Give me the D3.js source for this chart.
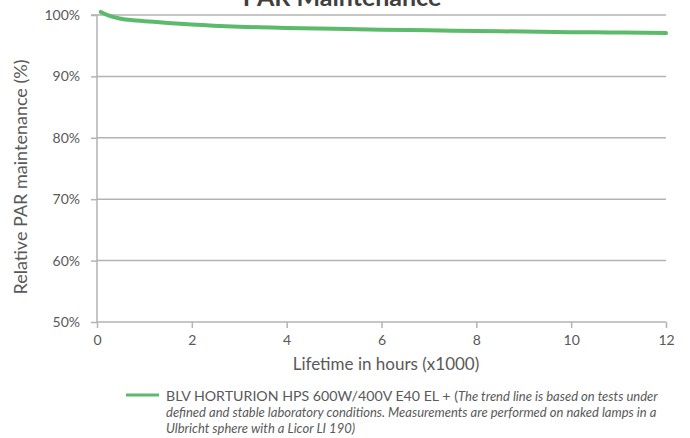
<!DOCTYPE html>
<html><head><meta charset="utf-8">
<script src="https://cdn.jsdelivr.net/npm/d3@7"></script>
<style>body{margin:0;background:#fff}svg{display:block}text{font-family:Lato,"Open Sans",sans-serif}</style>
</head><body><svg id="c" width="690" height="438"></svg>
<script>
const hours = [0.08, 0.25, 0.5, 0.75, 1, 1.5, 2, 3, 4, 5, 6, 7, 8, 9, 10, 11, 12];
const par = [100.5, 99.9, 99.4, 99.15, 99.0, 98.7, 98.45, 98.1, 97.9, 97.75, 97.6, 97.5, 97.4, 97.3, 97.2, 97.15, 97.05];
const xTicks = [0, 2, 4, 6, 8, 10, 12];
const yTicks = [50, 60, 70, 80, 90, 100];
const seriesName = "BLV HORTURION HPS 600W/400V E40 EL + (";
const noteLines = ["The trend line is based on tests under",
  "defined and stable laboratory conditions. Measurements are performed on naked lamps in a",
  "Ulbricht sphere with a Licor LI 190)"];

const svg = d3.select("#c");
const x = d3.scaleLinear().domain([0, 12]).range([97, 666]);
const y = d3.scaleLinear().domain([50, 100]).range([322, 15]);
const grey = "#b3b3b3", txt = "#595959";

// gridlines
svg.append("g").selectAll("line").data(yTicks.filter(d => d > 50)).join("line")
  .attr("x1", x(0)).attr("x2", x(12)).attr("y1", d => y(d)).attr("y2", d => y(d))
  .attr("stroke", grey).attr("stroke-width", 1.5);

// y axis
const ya = svg.append("g").attr("transform", `translate(${x(0)},0)`)
  .call(d3.axisLeft(y).tickValues(yTicks).tickFormat(d => d + "%").tickSize(6).tickPadding(11));
ya.select(".domain").attr("stroke", grey).attr("stroke-width", 1.5).attr("d", `M-6,${y(100)}H0V${y(50)}`);
ya.selectAll(".tick line").attr("stroke", grey).attr("stroke-width", 1.5);
ya.selectAll(".tick text").attr("fill", txt).style("font-size", "14px").style("font-family", "Lato,sans-serif");

// x axis
const xa = svg.append("g").attr("transform", `translate(0,${y(50)})`)
  .call(d3.axisBottom(x).tickValues(xTicks).tickSize(6).tickPadding(7));
xa.select(".domain").attr("stroke", grey).attr("stroke-width", 1.5).attr("d", `M${x(0)},0H${x(12)}`);
xa.selectAll(".tick line").attr("stroke", grey).attr("stroke-width", 1.5);
xa.selectAll(".tick text").attr("fill", txt).style("font-size", "14px").style("font-family", "Lato,sans-serif");

// line
svg.append("path").datum(hours.map((h, i) => [h, par[i]]))
  .attr("fill", "none").attr("stroke", "#5cbb6a").attr("stroke-width", 4).attr("stroke-linecap", "round")
  .attr("d", d3.line().x(d => x(d[0])).y(d => y(d[1])).curve(d3.curveMonotoneX));

// title
svg.append("text").attr("x", 342).attr("y", 6).attr("text-anchor", "middle")
  .attr("fill", "#404040").style("font-size", "25px").style("font-weight", "bold").text("PAR Maintenance");

// axis titles
svg.append("text").attr("x", 386).attr("y", 370).attr("text-anchor", "middle")
  .attr("fill", txt).style("font-size", "17px").text("Lifetime in hours (x1000)");
svg.append("text").attr("transform", "translate(27,177) rotate(-90)").attr("text-anchor", "middle")
  .attr("fill", txt).style("font-size", "18px").text("Relative PAR maintenance (%)");

// legend
svg.append("line").attr("x1", 126).attr("x2", 159).attr("y1", 395).attr("y2", 395)
  .attr("stroke", "#5cbb6a").attr("stroke-width", 3);
const t1 = svg.append("text").attr("x", 166).attr("y", 401).attr("fill", txt).style("font-size", "14.2px");
t1.append("tspan").text(seriesName);
t1.append("tspan").style("font-style", "italic").style("font-size", "13px").text(noteLines[0]);
svg.append("text").attr("x", 166).attr("y", 417).attr("fill", txt).style("font-size", "13px")
  .style("font-style", "italic").text(noteLines[1]);
svg.append("text").attr("x", 166).attr("y", 433).attr("fill", txt).style("font-size", "13px")
  .style("font-style", "italic").text(noteLines[2]);
</script></body></html>
